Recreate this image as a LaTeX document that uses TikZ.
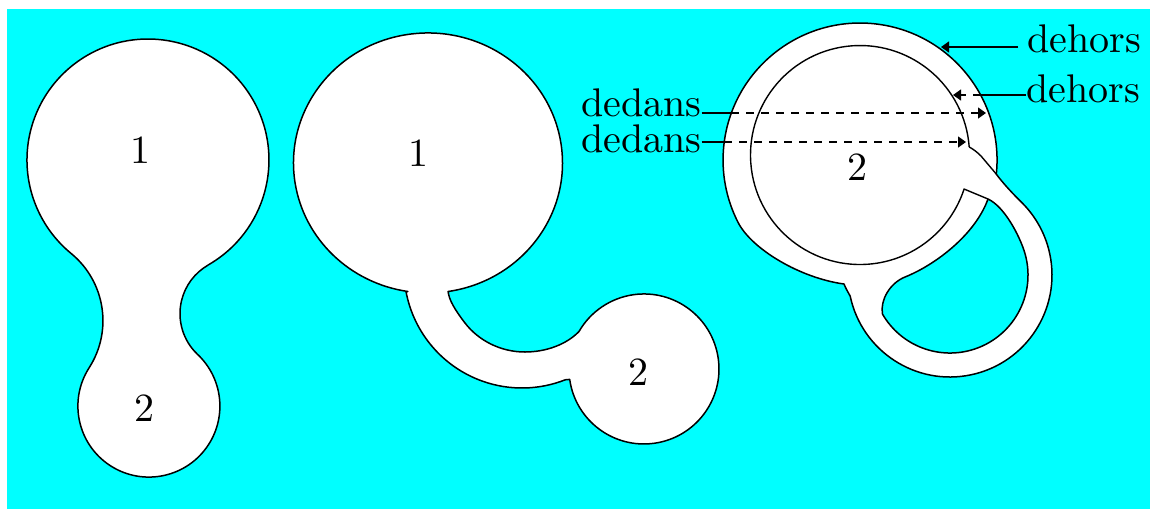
\documentclass[tikz,border=0pt]{standalone}
\usepackage{fontspec}
\newfontfamily\lblfont{lmroman10-regular.otf}
\usetikzlibrary{arrows.meta}
\definecolor{bgcyan}{RGB}{0,255,255}
\begin{document}
\begin{tikzpicture}[x=1pt,y=-1pt,
  blob/.style={fill=white,draw=black,line width=1.5pt,line join=round},
  hole/.style={fill=bgcyan,draw=black,line width=1.5pt,line join=round},
  slit/.style={draw=black,line width=1.4pt,line join=round},
  lbl/.style={font=\lblfont\fontsize{40}{48}\selectfont,inner sep=0pt},
  lead/.style={line width=1.3pt},
  tip/.style={-{Triangle[length=8pt,width=11pt]}},
  dashlead/.style={line width=1.3pt,dash pattern=on 8pt off 7pt,tip},
]
\useasboundingbox (0,0) rectangle (1150,509);
\fill[white] (0,0) rectangle (1150,509);
\fill[bgcyan] (7,9) rectangle (1150,509);

% ---------- shape 1 ----------
\path[blob] (208.1,265.0)
  arc[start angle=60.2, end angle=-230.6, radius=121]
  arc[start angle=-50.6, end angle=32.7, radius=87]
  arc[start angle=212.7, end angle=-46.7, radius=71]
  arc[start angle=133.3, end angle=240.2, radius=56] -- cycle;
\node[lbl] (s1a) at (140,150) {1};
\node[lbl] (s1b) at (144,408) {2};

% ---------- shape 2 ----------
\path[blob] (448.1,291.5)
  arc[start angle=81.4, end angle=-261.4, x radius=134.5, y radius=130]
  -- (406,291.5) arc[start angle=169.5, end angle=68.5, radius=118]
  -- (569.7,379.4) arc[start angle=172, end angle=-150, radius=75]
  .. controls (566,345) and (545,352) .. (525,352)
  .. controls (500,352) and (478,340) .. (465,323)
  .. controls (455,310) and (449,300) .. (448.1,291.5)
  -- cycle;
\node[lbl] (s2a) at (418,153) {1};
\node[lbl] (s2b) at (638,372) {2};

% ---------- shape 3 ----------
\path[blob] (996.3,174.1)
  arc[start angle=5.9, end angle=-207, radius=137]
  .. controls (751.5,249) and (800,278) .. (844,284)
  .. controls (846,289) and (848,292) .. (850.2,296.2)
  arc[start angle=168, end angle=-45, radius=102]
  .. controls (1012,193) and (1002,182) .. (996.3,174.1) -- cycle;
\path[hole] (988,199) .. controls (1005,207) and (1019.3,236.2) .. (1024,250.4)
  arc[start angle=-18.4, end angle=150, radius=78]
  .. controls (880,300) and (890,283) .. (905,277)
  .. controls (935,265) and (975,235) .. (988,199) -- cycle;
% slit curve
\path[slit] (969.2,147.0)
  arc[start angle=-4.2, end angle=-341.9, radius=109.5] -- (988,199);
\path[slit] (969.2,147.0) .. controls (973,149) and (977,152) .. (981,156)
  -- (996.3,174.1);
\node[lbl] (s3b) at (857,167) {2};

% ---------- labels and leaders ----------
\node[lbl,anchor=base west] (din1) at (581,116) {dedans};
\node[lbl,anchor=base west] (din2) at (581,152) {dedans};
\node[lbl,anchor=base west] (dout1) at (1027,52) {dehors};
\node[lbl,anchor=base west] (dout2) at (1026,102.5) {dehors};

\coordinate (i1x) at (731,113);
\coordinate (i1t) at (986,113);
\coordinate (i2x) at (724,142);
\coordinate (i2t) at (966,142);
\coordinate (o1t) at (941,47);
\coordinate (o2x) at (980.6,95);
\coordinate (o2t) at (953,95);
\path (dout1.west |- o1t) ++(-9,0) coordinate (o1s);

\draw[lead] (din1.east |- i1x) -- (i1x);
\draw[dashlead] (i1x) -- (i1t);
\draw[lead] (din2.east |- i2x) -- (i2x);
\draw[dashlead] (i2x) -- (i2t);
\draw[lead,tip] (o1s) -- (o1t);
\draw[lead] (dout2.west |- o2x) -- (o2x);
\draw[dashlead] (o2x) -- (o2t);
\end{tikzpicture}
\end{document}
